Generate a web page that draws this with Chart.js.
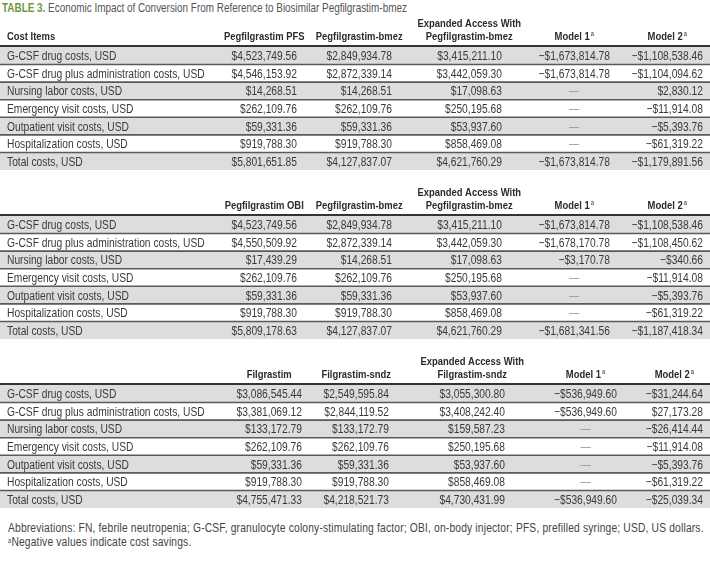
<!DOCTYPE html>
<html>
<head>
<meta charset="utf-8">
<script src="https://cdn.jsdelivr.net/npm/chart.js@4.4.1/dist/chart.umd.min.js"></script>
<style>
html, body { margin: 0; padding: 0; background: #fff; }
#page { position: relative; width: 710px; height: 573px; overflow: hidden;
        font-family: "Liberation Sans Narrow", "Liberation Sans", Arial, sans-serif; color: #444; }
.txt { position: absolute; white-space: nowrap; transform-origin: 0 0; }
#title { left: 2px; top: 1px; font-size: 12.1px; line-height: 14px; color: #555; }
#title b { color: #6b9a3b; }
#notes { left: 8px; top: 521px; font-size: 12.5px; letter-spacing: 0.22px; line-height: 14px; color: #444; }
#notes sup { font-size: 7px; vertical-align: top; position: relative; top: -1px; }
canvas { position: absolute; left: 0; }
</style>
</head>
<body>
<div id="page">
  <div id="title" class="txt"><b>TABLE 3.</b> Economic Impact of Conversion From Reference to Biosimilar Pegfilgrastim-bmez</div>
  <canvas id="tabla1" width="710" height="153" style="top:17px"></canvas>
  <canvas id="tabla2" width="710" height="153" style="top:186px"></canvas>
  <canvas id="tabla3" width="710" height="153" style="top:355px"></canvas>
  <div id="notes" class="txt">Abbreviations: FN, febrile neutropenia; G-CSF, granulocyte colony-stimulating factor; OBI, on-body injector; PFS, prefilled syringe; USD, US dollars.<br><sup>a</sup>Negative values indicate cost savings.</div>
</div>
<script>
// Filas (comunes a las tres tablas)
const rowLabels = [
    'G-CSF drug costs, USD',
    'G-CSF drug plus administration costs, USD',
    'Nursing labor costs, USD',
    'Emergency visit costs, USD',
    'Outpatient visit costs, USD',
    'Hospitalization costs, USD',
    'Total costs, USD'
];

// Tabla 1: Pegfilgrastim PFS
const headers1 = ['Pegfilgrastim PFS', 'Pegfilgrastim-bmez', 'Expanded Access With|Pegfilgrastim-bmez', 'Model 1^a', 'Model 2^a'];
const pfsCosts = [4523749.56, 4546153.92, 14268.51, 262109.76, 59331.36, 919788.30, 5801651.85];
const bmezCosts1 = [2849934.78, 2872339.14, 14268.51, 262109.76, 59331.36, 919788.30, 4127837.07];
const expandedBmez1 = [3415211.10, 3442059.30, 17098.63, 250195.68, 53937.60, 858469.08, 4621760.29];
const model1Pfs = [-1673814.78, -1673814.78, null, null, null, null, -1673814.78];
const model2Pfs = [-1108538.46, -1104094.62, 2830.12, -11914.08, -5393.76, -61319.22, -1179891.56];

// Tabla 2: Pegfilgrastim OBI
const headers2 = ['Pegfilgrastim OBI', 'Pegfilgrastim-bmez', 'Expanded Access With|Pegfilgrastim-bmez', 'Model 1^a', 'Model 2^a'];
const obiCosts = [4523749.56, 4550509.92, 17439.29, 262109.76, 59331.36, 919788.30, 5809178.63];
const bmezCosts2 = [2849934.78, 2872339.14, 14268.51, 262109.76, 59331.36, 919788.30, 4127837.07];
const expandedBmez2 = [3415211.10, 3442059.30, 17098.63, 250195.68, 53937.60, 858469.08, 4621760.29];
const model1Obi = [-1673814.78, -1678170.78, -3170.78, null, null, null, -1681341.56];
const model2Obi = [-1108538.46, -1108450.62, -340.66, -11914.08, -5393.76, -61319.22, -1187418.34];

// Tabla 3: Filgrastim
const headers3 = ['Filgrastim', 'Filgrastim-sndz', 'Expanded Access With|Filgrastim-sndz', 'Model 1^a', 'Model 2^a'];
const filCosts = [3086545.44, 3381069.12, 133172.79, 262109.76, 59331.36, 919788.30, 4755471.33];
const sndzCosts = [2549595.84, 2844119.52, 133172.79, 262109.76, 59331.36, 919788.30, 4218521.73];
const expandedSndz = [3055300.80, 3408242.40, 159587.23, 250195.68, 53937.60, 858469.08, 4730431.99];
const model1Fil = [-536949.60, -536949.60, null, null, null, null, -536949.60];
const model2Fil = [-31244.64, 27173.28, -26414.44, -11914.08, -5393.76, -61319.22, -25039.34];

// ---- Fuente estrecha: si no existe, se comprime Liberation Sans ----
function tieneFuente(nombre) {
    const c = document.createElement('canvas').getContext('2d');
    const muestra = 'abcdefghijklmnopqrstuvwxyz0123456789';
    c.font = '20px monospace';
    const a = c.measureText(muestra).width;
    c.font = '20px "' + nombre + '", monospace';
    return c.measureText(muestra).width !== a;
}
const NARROW = tieneFuente('Liberation Sans Narrow');
const FAMILY = NARROW ? '"Liberation Sans Narrow"' : '"Liberation Sans", Arial';
const SX = NARROW ? 1 : 0.82;
if (!NARROW) {
    document.querySelectorAll('.txt').forEach(el => el.style.transform = 'scaleX(0.82)');
}

const DASH = '\u2014';
const HEADER_H = 30;
const BODY_FONT = '12.5px ' + FAMILY;
const HEAD_FONT = 'bold 11.5px ' + FAMILY;
const SUP_FONT = '7px ' + FAMILY;

function fmtUSD(v) {
    if (v === null) return DASH;
    let s = '$' + Math.abs(v).toLocaleString('en-US', { minimumFractionDigits: 2, maximumFractionDigits: 2 });
    return v < 0 ? '\u2212' + s : s;
}

function anchoTexto(ctx, texto, font) {
    ctx.font = font;
    return ctx.measureText(texto).width * SX;
}

function pintarTexto(ctx, texto, x, y, align, font, color, baseline) {
    ctx.save();
    ctx.font = font;
    ctx.fillStyle = color;
    ctx.textAlign = align;
    ctx.textBaseline = baseline || 'middle';
    ctx.translate(x, y);
    ctx.scale(SX, 1);
    ctx.fillText(texto, 0, 0);
    ctx.restore();
}

function pintarCabecera(ctx, cabecera, centro, linea) {
    let lineas = cabecera.split('|');
    lineas.forEach((l, k) => {
        let base = linea - 6 - (lineas.length - 1 - k) * 13;
        let sup = '';
        if (l.endsWith('^a')) { sup = 'a'; l = l.slice(0, -2); }
        let w = anchoTexto(ctx, l, HEAD_FONT);
        let ws = sup ? anchoTexto(ctx, sup, SUP_FONT) + 1 : 0;
        let x0 = centro - (w + ws) / 2;
        pintarTexto(ctx, l, x0, base, 'left', HEAD_FONT, '#2b2b2b', 'alphabetic');
        if (sup) pintarTexto(ctx, sup, x0 + w + 1, base - 4, 'left', SUP_FONT, '#2b2b2b', 'alphabetic');
    });
}

const tablas = {
    tabla1: { headers: headers1, columns: [pfsCosts, bmezCosts1, expandedBmez1, model1Pfs, model2Pfs],
              rights: [297, 392, 502, 610, 703], costItems: true },
    tabla2: { headers: headers2, columns: [obiCosts, bmezCosts2, expandedBmez2, model1Obi, model2Obi],
              rights: [297, 392, 502, 610, 703], costItems: false },
    tabla3: { headers: headers3, columns: [filCosts, sndzCosts, expandedSndz, model1Fil, model2Fil],
              rights: [302, 389, 505, 617, 703], costItems: false }
};

const celdasPlugin = {
    id: 'celdas',
    afterDatasetsDraw: function(chart) {
        const t = tablas[chart.canvas.id];
        const ctx = chart.ctx;
        const y = chart.scales.y;
        const area = chart.chartArea;
        const banda = y.getPixelForValue(1) - y.getPixelForValue(0);

        ctx.save();
        // Separadores de filas
        ctx.strokeStyle = '#5a5a5a';
        ctx.lineWidth = 1.6;
        for (let i = 0; i < rowLabels.length - 1; i++) {
            let yy = y.getPixelForValue(i) + banda / 2;
            ctx.beginPath(); ctx.moveTo(0, yy); ctx.lineTo(chart.width, yy); ctx.stroke();
        }
        // Línea gruesa bajo la cabecera
        ctx.strokeStyle = '#333';
        ctx.lineWidth = 2.2;
        ctx.beginPath(); ctx.moveTo(0, area.top - 1); ctx.lineTo(chart.width, area.top - 1); ctx.stroke();
        ctx.restore();

        // Etiquetas de fila
        rowLabels.forEach((l, i) => pintarTexto(ctx, l, 7, y.getPixelForValue(i) + 1, 'left', BODY_FONT, '#3a3a3a'));
        if (t.costItems) pintarCabecera(ctx, 'Cost Items', 7 + anchoTexto(ctx, 'Cost Items', HEAD_FONT) / 2, area.top - 1);

        // Celdas de valores
        t.columns.forEach((col, j) => {
            let textos = col.map(fmtUSD);
            let maxW = Math.max(...textos.filter(s => s !== DASH).map(s => anchoTexto(ctx, s, BODY_FONT)));
            let right = t.rights[j];
            let centro = right - maxW / 2;
            textos.forEach((s, i) => {
                let yy = y.getPixelForValue(i) + 1;
                if (s === DASH) pintarTexto(ctx, s, centro, yy, 'center', BODY_FONT, '#9a9a9a');
                else pintarTexto(ctx, s, right, yy, 'right', BODY_FONT, '#3a3a3a');
            });
            pintarCabecera(ctx, t.headers[j], centro, area.top - 1);
        });
    }
};

function crearTabla(id) {
    let ctx = document.getElementById(id).getContext('2d');
    // Bandas grises en filas alternas (barras flotantes a todo el ancho)
    let bandas = rowLabels.map((l, i) => i % 2 === 0 ? [0, 710] : null);
    return new Chart(ctx, {
        type: 'bar',
        data: {
            labels: rowLabels,
            datasets: [{
                data: bandas,
                backgroundColor: '#dddddd',
                borderWidth: 0,
                barPercentage: 1,
                categoryPercentage: 1
            }]
        },
        options: {
            indexAxis: 'y',
            responsive: false,
            animation: false,
            devicePixelRatio: 1,
            events: [],
            layout: { padding: { top: HEADER_H, left: 0, right: 0, bottom: 0 } },
            plugins: { legend: { display: false }, tooltip: { enabled: false } },
            scales: {
                x: { type: 'linear', min: 0, max: 710, display: false },
                y: { type: 'category', display: false, offset: true }
            }
        },
        plugins: [celdasPlugin]
    });
}

document.addEventListener('DOMContentLoaded', function() {
    ['tabla1', 'tabla2', 'tabla3'].forEach(crearTabla);
});
</script>
</body>
</html>
